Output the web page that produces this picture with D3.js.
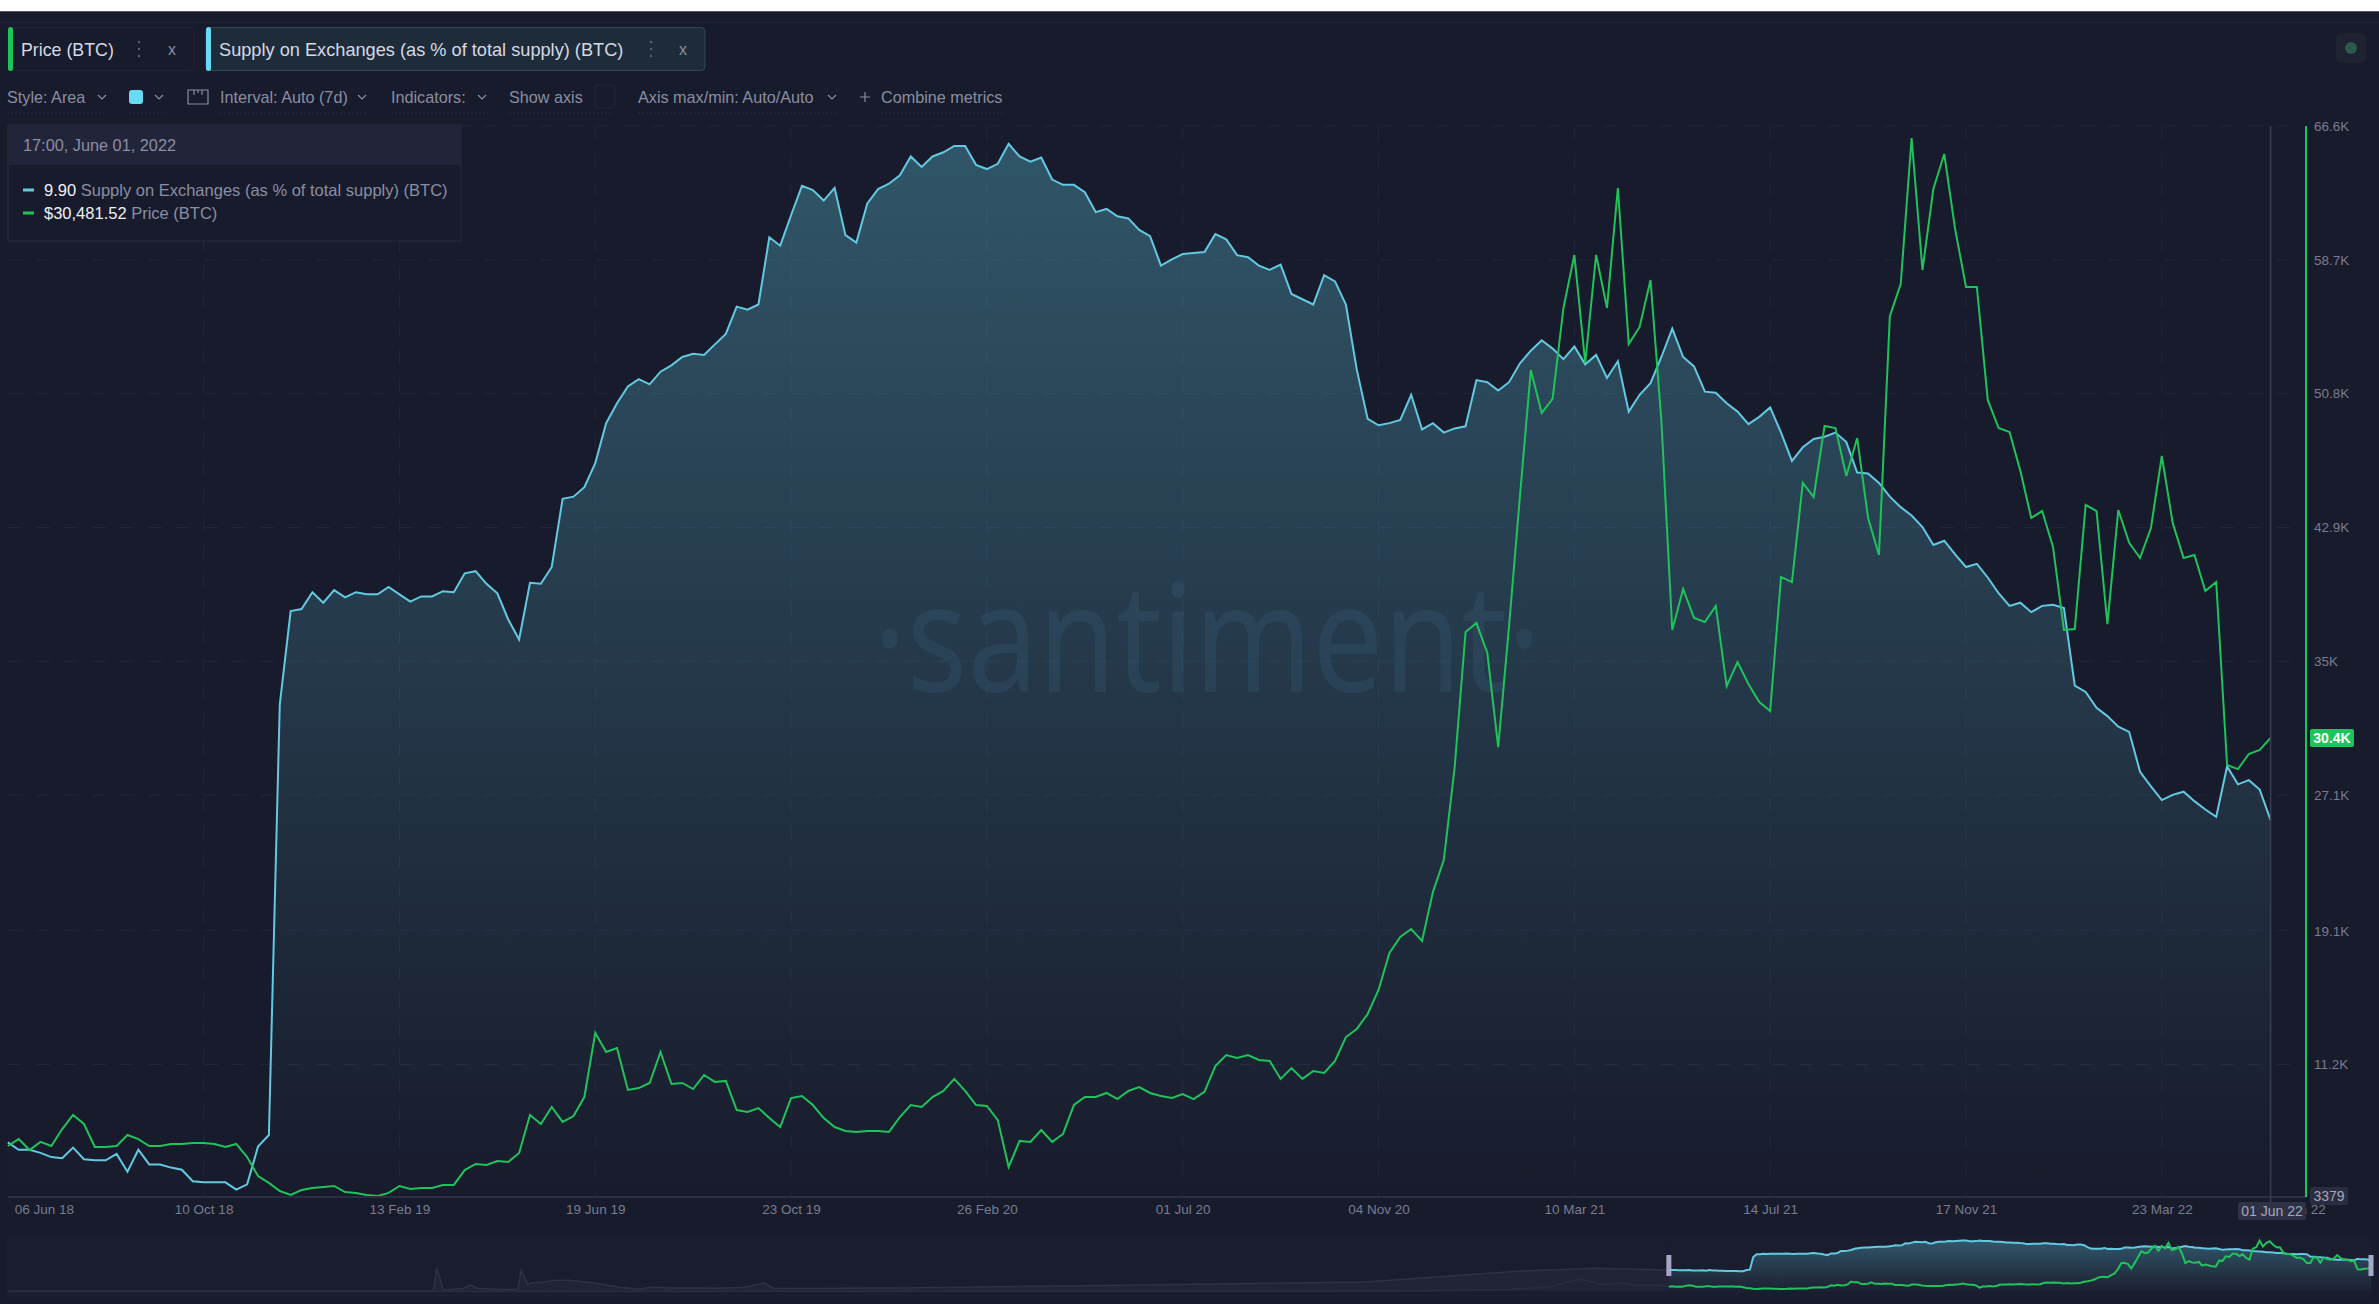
<!DOCTYPE html>
<html>
<head>
<meta charset="utf-8">
<title>Supply on Exchanges vs Price (BTC)</title>
<script src="https://cdn.jsdelivr.net/npm/d3@7"></script>
<style>
  html, body { margin: 0; padding: 0; background: #181b2b; overflow: hidden; }
  text { font-family: "Liberation Sans", Arial, sans-serif; }
</style>
</head>
<body>
<svg id="chart" width="2379" height="1304"></svg>
<script>
// weekly series, 06 Jun 18 -> 01 Jun 22
const supplyValues = [
  6.83,6.76,6.76,6.73,6.69,6.68,6.78,6.67,6.66,6.66,6.72,6.55,6.76,6.62,6.62,6.59,6.57,6.46,6.45,6.45,
  6.45,6.38,6.43,6.79,6.90,11.00,11.89,11.91,12.07,11.97,12.09,12.02,12.07,12.05,12.05,12.12,12.05,11.98,12.03,12.03,
  12.08,12.07,12.25,12.27,12.15,12.06,11.81,11.62,12.16,12.15,12.31,12.96,12.98,13.07,13.30,13.68,13.87,14.03,14.10,14.05,
  14.17,14.23,14.31,14.34,14.33,14.43,14.53,14.79,14.76,14.81,15.45,15.37,15.66,15.94,15.90,15.80,15.92,15.47,15.40,15.77,
  15.91,15.96,16.04,16.22,16.12,16.22,16.26,16.32,16.32,16.14,16.10,16.15,16.34,16.22,16.17,16.21,16.00,15.95,15.95,15.88,
  15.69,15.72,15.65,15.63,15.52,15.46,15.18,15.24,15.29,15.30,15.31,15.48,15.43,15.28,15.26,15.18,15.14,15.19,14.91,14.86,
  14.81,15.09,15.03,14.81,14.19,13.72,13.66,13.68,13.71,13.95,13.62,13.68,13.59,13.63,13.65,14.09,14.07,13.99,14.07,14.25,
  14.37,14.47,14.39,14.29,14.41,14.24,14.33,14.11,14.27,13.79,13.95,14.06,14.31,14.58,14.31,14.22,13.98,13.97,13.87,13.79,
  13.67,13.74,13.83,13.59,13.32,13.45,13.53,13.55,13.59,13.50,13.21,13.20,13.11,12.98,12.88,12.80,12.69,12.52,12.56,12.43,
  12.31,12.34,12.21,12.06,11.94,11.97,11.88,11.94,11.95,11.92,11.18,11.12,10.97,10.89,10.79,10.74,10.36,10.22,10.09,10.14,
  10.17,10.08,10.00,9.93,10.41,10.24,10.28,10.19,9.90
];
const priceValues = [
  6390,6800,6150,6630,6390,7390,8220,7690,6330,6330,6390,7040,6800,6390,6390,6510,6510,6570,6570,6510,
  6330,6510,5740,4620,4210,3730,3500,3790,3910,3970,4030,3670,3620,3500,3440,3620,4030,3850,3910,3910,
  4090,4090,4970,5330,5270,5500,5450,5980,8220,7690,8690,7810,8160,9280,13060,11940,12170,9700,9810,10110,
  11940,10050,10110,9750,10580,10170,10230,8510,8400,8630,8040,7510,9220,9340,8810,8040,7510,7280,7220,7280,
  7280,7220,8100,8810,8690,9280,9640,10350,9640,8810,8750,7920,5150,6690,6630,7330,6630,7100,8810,9280,
  9280,9520,9160,9640,9870,9520,9340,9220,9460,9160,9580,11110,11760,11580,11760,11470,11410,10350,10990,10350,
  10820,10700,11410,12820,13300,14180,15600,17780,18730,19200,18490,21380,23270,28760,36730,37260,35490,29940,37090,44760,
  52200,49660,50490,55860,58990,52610,58990,55860,62940,53730,54740,57510,49190,36850,39270,37560,37320,38270,33540,34960,
  33660,32600,32070,39980,39680,45530,44700,48890,48770,45940,48180,43460,41280,55380,57270,65890,58100,62880,64950,60520,
  57100,57100,50430,48770,48540,46240,43460,43870,41750,36850,36910,44230,43870,37200,43930,41990,41100,42870,47120,43170,
  41100,41280,39150,39680,28880,28640,29530,29770,30481.52
];
const priceTicks = [66600,58700,50800,42900,35000,27100,19100,11200];
const priceTickLabels = ["66.6K","58.7K","50.8K","42.9K","35K","27.1K","19.1K","11.2K"];
const dateTicks = ["2018-06-06","2018-10-10","2019-02-13","2019-06-19","2019-10-23","2020-02-26","2020-07-01","2020-11-04","2021-03-10","2021-07-14","2021-11-17","2022-03-23"];
// older part of the navigator, weeks before 06 Jun 18
const historyWeeks = [-492,-366,-365,-363,-357,-355,-353,-346,-341,-340,-338,-337,-333,-330,-326,-321,-317,-311,-305,-302,-295,-281,-274,-268,-265,-228,-180,-90,-45,-22,0];
const historySupply = [0,0,7.4,0.3,0.8,1.9,0.9,0.5,0.5,6.6,2.0,2.6,2.9,3.5,3.5,2.9,2.4,1.2,0.6,1.2,1.0,0.9,1.2,2.6,0.8,1.0,1.6,2.9,6.4,7.4,6.83];
const historyPriceWeeks = [-492,-200,-100,-70,-50,-35,-27,-24,-20,-14,-10,-6,-2,0];
const historyPrice = [0,400,500,1000,2500,6000,16000,14000,9000,11000,8000,9000,7500,6390];

const parseDay = d3.utcParse("%Y-%m-%d");
const startDate = parseDay("2018-06-06");
const dates = supplyValues.map((d, i) => d3.utcWeek.offset(startDate, i));
const lastDate = dates[dates.length - 1];

const blue = "#63c9e0", green = "#20c25c", muted = "#8a8ea3", axisText = "#787c91";
const svg = d3.select("#chart");
const chartTop = 126, chartBottom = 1197;

// scales
const x = d3.scaleUtc().domain([startDate, lastDate]).range([7.8, 2270.6]);
const yPrice = d3.scaleLinear().domain([3379, 66600]).range([chartBottom, chartTop]);
const ySupply = d3.scaleLinear().domain([6.31, 16.51]).range([chartBottom, chartTop]);

// gradients
const defs = svg.append("defs");
function addGradient(id, y1, y2) {
  const g = defs.append("linearGradient").attr("id", id)
    .attr("gradientUnits", "userSpaceOnUse")
    .attr("x1", 0).attr("x2", 0).attr("y1", y1).attr("y2", y2);
  g.append("stop").attr("offset", 0).attr("stop-color", "#68dbf4").attr("stop-opacity", 0.31);
  g.append("stop").attr("offset", 1).attr("stop-color", "#68dbf4").attr("stop-opacity", 0);
}
addGradient("areaFill", chartTop, chartBottom);
addGradient("navFill", 1240, 1294);

// top white strip of the screenshot
svg.append("rect").attr("width", 2379).attr("height", 11).attr("fill", "#fff");
svg.append("rect").attr("y", 11).attr("width", 2379).attr("height", 1).attr("fill", "#55586a");
svg.append("rect").attr("y", 22).attr("width", 2379).attr("height", 1).attr("fill", "#1e2132");

// grid
const grid = svg.append("g").attr("stroke", "#22263a").attr("stroke-dasharray", "14 14");
grid.selectAll(".gx").data(dateTicks.slice(1)).join("line")
  .attr("x1", d => x(parseDay(d))).attr("x2", d => x(parseDay(d)))
  .attr("y1", chartTop).attr("y2", chartBottom);
grid.selectAll(".gy").data(priceTicks).join("line")
  .attr("x1", 8).attr("x2", 2299)
  .attr("y1", d => yPrice(d)).attr("y2", d => yPrice(d));

// supply area + lines
const area = d3.area().x((d, i) => x(dates[i])).y0(chartBottom).y1(d => ySupply(d));
svg.append("path").datum(supplyValues).attr("d", area).attr("fill", "url(#areaFill)");

// watermark
svg.append("text").attr("x", 1207).attr("y", 692).attr("text-anchor", "middle")
  .attr("textLength", 668).attr("lengthAdjust", "spacingAndGlyphs")
  .style("font-family", "'Noto Sans'").style("font-weight", 400).style("font-size", "150px")
  .attr("fill", "#5d8fb5").attr("fill-opacity", 0.12).text("·santiment·");

const supplyLine = d3.line().x((d, i) => x(dates[i])).y(d => ySupply(d));
const priceLine = d3.line().x((d, i) => x(dates[i])).y(d => yPrice(d));
svg.append("path").datum(supplyValues).attr("d", supplyLine)
  .attr("fill", "none").attr("stroke", blue).attr("stroke-width", 2);
svg.append("path").datum(priceValues).attr("d", priceLine)
  .attr("fill", "none").attr("stroke", green).attr("stroke-width", 2);

// bottom axis
const xAxis = d3.axisBottom(x)
  .tickValues(dateTicks.map(parseDay).concat([lastDate]))
  .tickFormat(d3.utcFormat("%d %b %y")).tickSize(0).tickPadding(0);
const xAxisG = svg.append("g").attr("transform", `translate(0,${chartBottom})`).call(xAxis);
xAxisG.select(".domain").attr("stroke", "#2b2f43").attr("stroke-width", 2).attr("d", "M8,0H2306");
xAxisG.selectAll("text").attr("fill", axisText).style("font-size", "13.5px").attr("y", 12).attr("dy", "0.35em");
xAxisG.selectAll(".tick").filter((d, i) => i === 0).select("text").attr("x", 36);
xAxisG.selectAll(".tick").filter((d, i) => i === dateTicks.length).select("text").attr("x", 25);

// right axis
const yAxis = d3.axisRight(yPrice).tickValues(priceTicks)
  .tickFormat((d, i) => priceTickLabels[i]).tickSize(0).tickPadding(0);
const yAxisG = svg.append("g").attr("transform", "translate(2314,0)").call(yAxis);
yAxisG.select(".domain").remove();
yAxisG.selectAll("text").attr("fill", axisText).style("font-size", "13.5px");

// axis line + hovered date line
svg.append("line").attr("x1", x(lastDate)).attr("x2", x(lastDate)).attr("y1", chartTop).attr("y2", chartBottom + 6)
  .attr("stroke", "#3a3e52").attr("stroke-width", 1.5);
svg.append("line").attr("x1", 2306).attr("x2", 2306).attr("y1", chartTop).attr("y2", chartBottom)
  .attr("stroke", green).attr("stroke-width", 2);

function tag(cx, cy, w, h, fill, color, label, weight) {
  svg.append("rect").attr("x", cx - w / 2).attr("y", cy - h / 2).attr("width", w).attr("height", h)
    .attr("rx", 2).attr("fill", fill);
  svg.append("text").attr("x", cx).attr("y", cy).attr("dy", "0.35em").attr("text-anchor", "middle")
    .attr("fill", color).style("font-size", "14px").style("font-weight", weight || 400).text(label);
}
tag(2332, 738, 44, 18, green, "#fff", "30.4K", 700);
tag(2329, 1196, 38, 18, "#2a2d41", "#a4a7ba", "3379");
tag(2272, 1211, 68, 18, "#2f3246", "#a4a7ba", "01 Jun 22");

// navigator
const nx = d3.scaleLinear().domain([-492, 208]).range([8, 2371]);
const navSupply = d3.scaleLinear().domain([0, 16.51]).range([1291, 1240]);
const navPrice = d3.scaleLinear().domain([0, 3379, 66600]).range([1291.6, 1289, 1240]);
const nav = svg.append("g");
nav.append("rect").attr("x", 8).attr("y", 1238).attr("width", 2363).attr("height", 58)
  .attr("fill", "#1a1d2d").attr("stroke", "#1f2234");
nav.append("rect").attr("x", nx(0)).attr("y", 1238).attr("width", nx(208) - nx(0)).attr("height", 58)
  .attr("fill", "#1a1d2e");

nav.append("path").datum(historySupply)
  .attr("d", d3.area().x((d, i) => nx(historyWeeks[i])).y0(1291).y1(d => navSupply(d)))
  .attr("fill", "#212435");
nav.append("path").datum(historySupply)
  .attr("d", d3.line().x((d, i) => nx(historyWeeks[i])).y(d => navSupply(d)))
  .attr("fill", "none").attr("stroke", "#2e3145").attr("stroke-width", 1.5);
nav.append("path").datum(historyPrice)
  .attr("d", d3.line().x((d, i) => nx(historyPriceWeeks[i])).y(d => navPrice(d)))
  .attr("fill", "none").attr("stroke", "#2a2d41").attr("stroke-width", 1.5);

nav.append("path").datum(supplyValues)
  .attr("d", d3.area().x((d, i) => nx(i)).y0(1292).y1(d => navSupply(d)))
  .attr("fill", "url(#navFill)");
nav.append("path").datum(supplyValues)
  .attr("d", d3.line().x((d, i) => nx(i)).y(d => navSupply(d)))
  .attr("fill", "none").attr("stroke", blue).attr("stroke-width", 2);
nav.append("path").datum(priceValues)
  .attr("d", d3.line().x((d, i) => nx(i)).y(d => navPrice(d)))
  .attr("fill", "none").attr("stroke", green).attr("stroke-width", 2);
nav.selectAll(".handle").data([0, 208]).join("rect")
  .attr("x", d => nx(d) - 2.5).attr("y", 1255).attr("width", 5).attr("height", 21)
  .attr("fill", "#a5a6c8");

// header chips
function chip(x0, w, barColor, fill, stroke, label, textX, dotsX, closeX, size) {
  const g = svg.append("g");
  g.append("rect").attr("x", x0).attr("y", 27.5).attr("width", w).attr("height", 43).attr("rx", 4)
    .attr("fill", fill).attr("stroke", stroke);
  g.append("rect").attr("x", x0).attr("y", 27).attr("width", 5).attr("height", 44).attr("rx", 2.5).attr("fill", barColor);
  g.append("text").attr("x", textX).attr("y", 50).attr("dy", "0.35em").attr("fill", "#d5d8e6")
    .style("font-size", size + "px").text(label);
  g.selectAll(".dot").data([-7, 0, 7]).join("circle")
    .attr("cx", dotsX).attr("cy", d => 49 + d).attr("r", 1.2).attr("fill", "#5c6074");
  g.append("text").attr("x", closeX).attr("y", 49).attr("dy", "0.35em").attr("text-anchor", "middle")
    .attr("fill", muted).style("font-size", "16px").text("x");
}
chip(8, 186, green, "#181b2b", "#212436", "Price (BTC)", 21, 139, 172, 17.8);
chip(206, 499, "#68dbf4", "#1e2c3a", "#2e4a59", "Supply on Exchanges (as % of total supply) (BTC)", 219, 651, 683, 18.2);

// settings row
function settingText(tx, label, x2) {
  svg.append("text").attr("x", tx).attr("y", 97).attr("dy", "0.35em").attr("fill", muted)
    .style("font-size", "16.2px").text(label);
  if (x2) svg.append("line").attr("x1", tx).attr("x2", x2).attr("y1", 113).attr("y2", 113)
    .attr("stroke", "#2a2d41").attr("stroke-dasharray", "2 2");
}
function chevron(cx) {
  svg.append("path").attr("d", `M${cx - 4},95l4,4l4,-4`).attr("fill", "none").attr("stroke", muted).attr("stroke-width", 1.2);
}
settingText(7, "Style: Area", 107); chevron(102);
svg.append("rect").attr("x", 129).attr("y", 90).attr("width", 14).attr("height", 14).attr("rx", 3).attr("fill", "#68dbf4");
svg.append("line").attr("x1", 129).attr("x2", 166).attr("y1", 113).attr("y2", 113).attr("stroke", "#2a2d41").attr("stroke-dasharray", "2 2");
chevron(159);
svg.append("path").attr("d", "M188,90h20v14h-20zM194,90v5M202,90v5M198,90v3").attr("fill", "none").attr("stroke", muted).attr("stroke-width", 1.2);
settingText(220, "Interval: Auto (7d)", 368); chevron(362);
settingText(391, "Indicators:", 488); chevron(482);
settingText(509, "Show axis", 613);
svg.append("rect").attr("x", 595).attr("y", 85).attr("width", 20).attr("height", 23).attr("rx", 3).attr("fill", "none").attr("stroke", "#22263a");
settingText(638, "Axis max/min: Auto/Auto", 838); chevron(832);
svg.append("path").attr("d", "M860,97h10M865,92v10").attr("stroke", muted).attr("stroke-width", 1.2);
settingText(881, "Combine metrics", 1003);

// tooltip panel
const tip = svg.append("g");
tip.append("rect").attr("x", 8).attr("y", 125).attr("width", 453).attr("height", 116).attr("fill", "#181b2b").attr("stroke", "#2a2d41");
tip.append("rect").attr("x", 8).attr("y", 125).attr("width", 453).attr("height", 40).attr("fill", "#22253a");
tip.append("text").attr("x", 23).attr("y", 145).attr("dy", "0.35em").attr("fill", muted).style("font-size", "16.3px").text("17:00, June 01, 2022");
function tipRow(ty, color, value, label) {
  tip.append("rect").attr("x", 23).attr("y", ty - 1.5).attr("width", 11).attr("height", 3).attr("fill", color);
  const t = tip.append("text").attr("x", 44).attr("y", ty).attr("dy", "0.35em").style("font-size", "16.5px");
  t.append("tspan").attr("fill", "#f0f1f6").text(value);
  t.append("tspan").attr("fill", muted).text(" " + label);
}
tipRow(190, blue, "9.90", "Supply on Exchanges (as % of total supply) (BTC)");
tipRow(213, green, "$30,481.52", "Price (BTC)");

// top right status icon
svg.append("rect").attr("x", 2336).attr("y", 33).attr("width", 30).attr("height", 30).attr("rx", 6).attr("fill", "#1e2231");
svg.append("circle").attr("cx", 2351).attr("cy", 48).attr("r", 6).attr("fill", "#2c5a4e");
</script>
</body>
</html>
